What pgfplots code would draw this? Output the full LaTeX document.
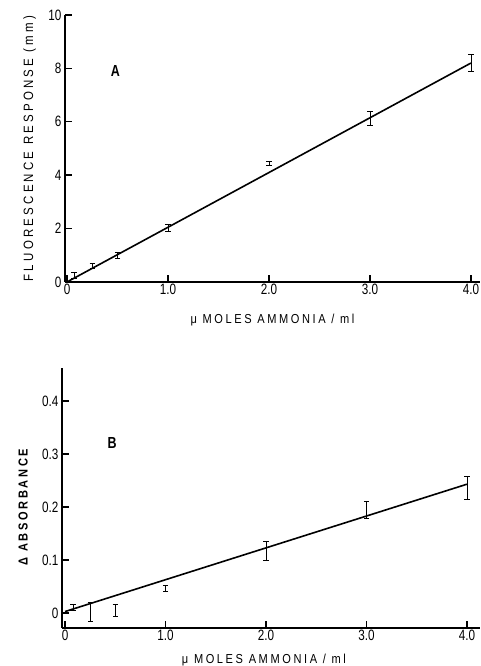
\documentclass[border=0pt]{standalone}
\usepackage{fontspec}
\setmainfont{Liberation Sans}[FakeStretch=0.78]
\newfontfamily\lblfont{Liberation Sans}[FakeStretch=0.85,LetterSpace=20]
\newfontfamily\ylblfont{Liberation Sans}[FakeStretch=0.85,LetterSpace=24]
\usepackage{pgfplots}
\pgfplotsset{compat=1.18}

\pgfplotstableread{
x y e
0.07 0.25 0.10
0.25 0.60 0.10
0.50 1.00 0.12
1.00 2.02 0.12
2.00 4.45 0.08
3.00 6.12 0.27
4.00 8.20 0.32
}\fluor

\pgfplotstableread{
x y e
0.08 0.011 0.006
0.25 0.002 0.018
0.50 0.005 0.011
1.00 0.047 0.006
2.00 0.117 0.018
3.00 0.194 0.016
4.00 0.236 0.022
}\absorb

\pgfplotsset{
  panel/.style={
    scale only axis,
    axis lines*=left,
    axis line style={line width=1.6pt},
    tick align=inside,
    major tick length=7pt,
    tick style={line width=1.4pt, black},
    xtick={0,1,2,3,4},
    xticklabels={0,1.0,2.0,3.0,4.0},
    tick label style={font=\fontsize{15}{15}\selectfont},
    xticklabel style={yshift=2pt},
    /pgf/number format/assume math mode=true,
    label style={font=\lblfont\fontsize{13}{13}\selectfont},
    clip=false,
  },
  errpts/.style={
    draw=none, mark=none,
    error bars/.cd, y dir=both, y explicit,
    error bar style={line width=0.8pt, draw=black},
    error mark options={rotate=90, mark size=2.6pt, line width=0.8pt, draw=black},
  },
}

\begin{document}
\begin{tikzpicture}
\useasboundingbox (0,0) rectangle (481pt,666pt);

% panel A
\begin{axis}[panel,
  at={(65pt,384pt)}, anchor=south west,
  width=415pt, height=267pt,
  xmin=-0.02, xmax=4.09,
  ymin=0, ymax=10,
  ytick={0,2,4,6,8,10},
  yticklabels={0,2,4,6,8,10},
  xlabel={μ MOLES AMMONIA / ml},
  ylabel={FLUORESCENCE RESPONSE (mm)},
  x label style={at={(axis description cs:0.5,-0.142)}, anchor=center},
  y label style={at={(axis description cs:-0.085,0.5)}, anchor=center, font=\ylblfont\fontsize{13.5}{13.5}\selectfont},
]
\addplot[errpts] table[x=x, y=y, y error=e] {\fluor};
\addplot[black, line width=1.6pt] coordinates {(0,0) (4.0,8.2)};
\node[font=\fontsize{16}{16}\selectfont\bfseries] at (axis cs:0.48,7.9) {A};
\end{axis}

% panel B
\begin{axis}[panel,
  at={(62pt,38pt)}, anchor=south west,
  width=418pt, height=260pt,
  xmin=-0.03, xmax=4.13,
  ymin=-0.028, ymax=0.462,
  ytick={0,0.1,0.2,0.3,0.4},
  yticklabels={0,0.1,0.2,0.3,0.4},
  xlabel={μ MOLES AMMONIA / ml},
  ylabel={Δ ABSORBANCE},
  x label style={at={(axis description cs:0.483,-0.125)}, anchor=center},
  y label style={at={(axis description cs:-0.093,0.465)}, anchor=center, font=\lblfont\fontsize{13}{13}\selectfont\bfseries},
]
\addplot[errpts] table[x=x, y=y, y error=e] {\absorb};
\addplot[black, line width=1.6pt] coordinates {(0,0.003) (4.0,0.243)};
\node[font=\fontsize{16}{16}\selectfont\bfseries] at (axis cs:0.47,0.32) {B};
\end{axis}
\end{tikzpicture}
\end{document}
